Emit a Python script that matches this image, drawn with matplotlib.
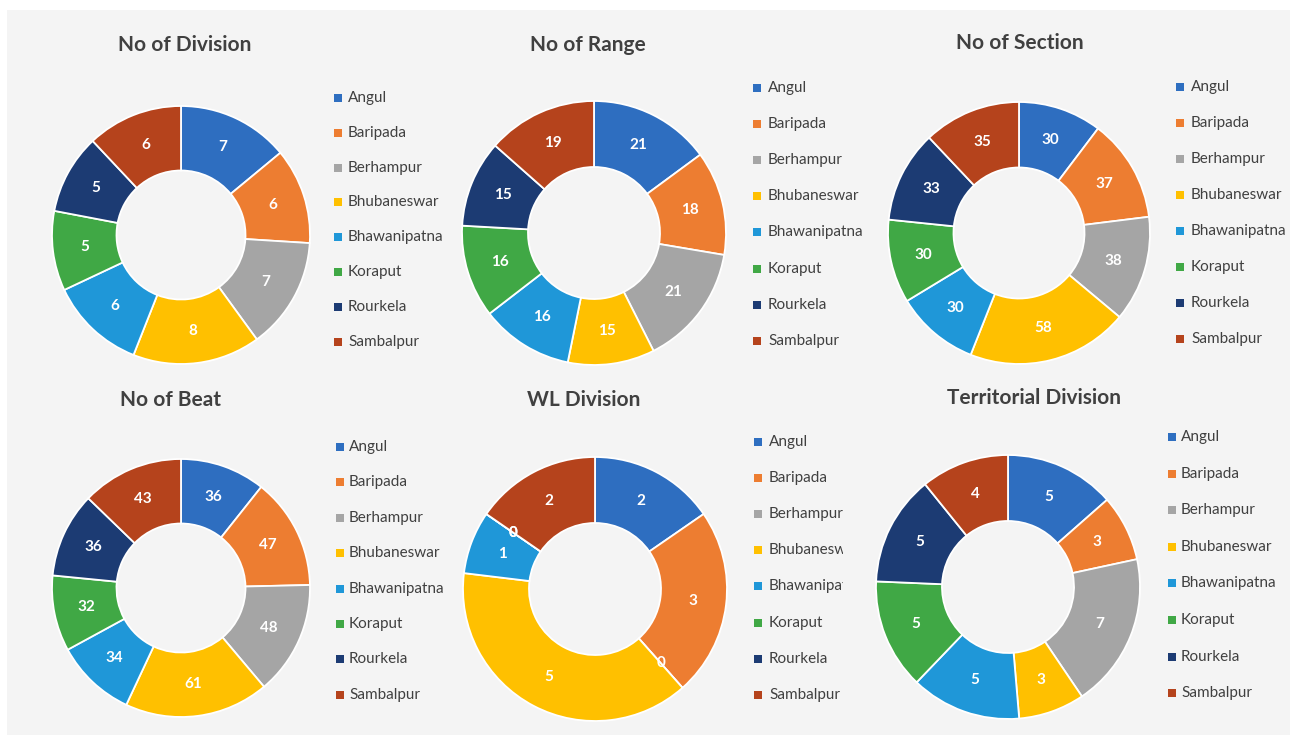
import matplotlib
matplotlib.use("Agg")
import matplotlib.pyplot as plt
from matplotlib.patches import Rectangle

# ---------------- data ----------------
districts = ["Angul", "Baripada", "Berhampur", "Bhubaneswar",
             "Bhawanipatna", "Koraput", "Rourkela", "Sambalpur"]
titles = ["No of Division", "No of Range", "No of Section",
          "No of Beat", "WL Division", "Territorial Division"]
division = [7, 6, 7, 8, 6, 5, 5, 6]
range_ = [21, 18, 21, 15, 16, 16, 15, 19]
section = [30, 37, 38, 58, 30, 30, 33, 35]
beat = [36, 47, 48, 61, 34, 32, 36, 43]
wl_division = [2, 3, 0, 5, 1, 0, 0, 2]
territorial = [5, 3, 7, 3, 5, 5, 5, 4]
series = [division, range_, section, beat, wl_division, territorial]

colors = ["#2E6EC0", "#ED7D31", "#A5A5A5", "#FFC000",
          "#1F97D8", "#40A845", "#1C3B73", "#B5431C"]

# ---------------- layout (pixels) ----------------
W, H = 1294, 738
fig = plt.figure(figsize=(W / 100, H / 100), dpi=100)
fig.patch.set_facecolor("white")
plt.rcParams['font.family'] = ['Lato', 'DejaVu Sans']

def fx(x):
    return x / W

def fy(y):
    return 1 - y / H

# light grey panel
fig.add_artist(Rectangle((fx(7), fy(735)), fx(1290) - fx(7), fy(10) - fy(735),
                         transform=fig.transFigure, facecolor="#F4F4F4",
                         edgecolor="none", zorder=0))

centers = [(181, 235, 129), (594, 233, 132), (1019, 233, 131),
           (181, 588, 129), (595, 589, 132), (1008, 587, 132)]
title_pos = [(185, 45), (588, 45), (1020, 43), (170, 400), (584, 400), (1034, 398)]
legend_pos = [(338, 348, 98, 34.8), (757, 768, 88, 36.1), (1180, 1191, 87, 36.0),
              (340, 349, 447, 35.4), (758, 769, 442, 36.1), (1172, 1181, 437, 36.6)]
legend_clip = [None, None, None, None, 843, None]

text_col = "#404040"

for i, vals in enumerate(series):
    cx, cy, r = centers[i]
    ax = fig.add_axes([fx(cx - r), fy(cy + r), 2 * r / W, 2 * r / H])
    wedges, _ = ax.pie(vals, colors=colors, startangle=90, counterclock=False,
                       radius=1.0,
                       wedgeprops=dict(width=0.5, edgecolor="white", linewidth=1.3))
    ax.set_xlim(-1, 1)
    ax.set_ylim(-1, 1)
    ax.set_aspect("equal")
    ax.axis("off")
    # data labels
    import numpy as np
    total = float(sum(vals))
    start = 90.0
    for v in vals:
        ang = start - 360.0 * v / total / 2
        start -= 360.0 * v / total
        rr = 0.75
        ax.text(rr * np.cos(np.radians(ang)), rr * np.sin(np.radians(ang)),
                str(v), ha="center", va="center", color="white",
                fontsize=11, fontweight="bold")

    tx, ty = title_pos[i]
    fig.text(fx(tx), fy(ty), titles[i], ha="center", va="center",
             fontsize=15, fontweight="bold", color=text_col)

    mx, lx, y0, dy = legend_pos[i]
    clip = legend_clip[i]
    lax = fig.add_axes([fx(mx - 6), fy(y0 + 7 * dy + 15), (W - mx + 6) / W if clip is None else (clip - mx + 6) / W,
                        (7 * dy + 30) / H])
    lax.set_xlim(mx - 6, mx - 6 + (W - mx + 6 if clip is None else clip - mx + 6))
    lax.set_ylim(y0 + 7 * dy + 15, y0 - 15)
    lax.axis("off")
    for k, name in enumerate(districts):
        yy = y0 + k * dy
        lax.add_patch(Rectangle((mx - 4, yy - 4), 8, 8, facecolor=colors[k],
                                edgecolor="none"))
        lax.text(lx, yy, name, ha="left", va="center", fontsize=11,
                 color=text_col, clip_on=True)

fig.savefig("out.png", dpi=100, facecolor=fig.get_facecolor())
